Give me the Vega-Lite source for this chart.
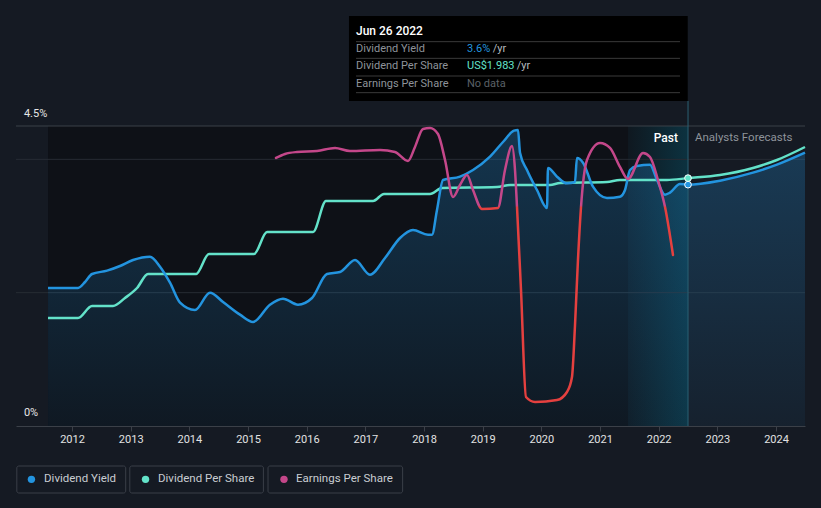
{
  "$schema": "https://vega.github.io/schema/vega-lite/v6.json",
  "width": 789,
  "height": 300,
  "autosize": {"type": "none"},
  "padding": {"left": 16, "top": 126, "right": 16, "bottom": 82},
  "background": "#151a23",
  "config": {
    "view": {"stroke": null},
    "text": {"font": "Roboto"},
    "axis": {"labelFont": "Roboto"}
  },
  "datasets": {
    "yield": [
      {"t": 2011.591, "v": 2.07}, {"t": 2012.102, "v": 2.07}, {"t": 2012.222, "v": 2.16}, {"t": 2012.341, "v": 2.28},
      {"t": 2012.597, "v": 2.33}, {"t": 2012.818, "v": 2.40}, {"t": 2013.040, "v": 2.49}, {"t": 2013.329, "v": 2.54},
      {"t": 2013.500, "v": 2.39}, {"t": 2013.670, "v": 2.15}, {"t": 2013.841, "v": 1.85}, {"t": 2014.096, "v": 1.74},
      {"t": 2014.352, "v": 2.00}, {"t": 2014.574, "v": 1.86}, {"t": 2014.863, "v": 1.67}, {"t": 2015.085, "v": 1.56},
      {"t": 2015.374, "v": 1.82}, {"t": 2015.596, "v": 1.91}, {"t": 2015.852, "v": 1.82}, {"t": 2016.091, "v": 1.92},
      {"t": 2016.346, "v": 2.28}, {"t": 2016.568, "v": 2.31}, {"t": 2016.824, "v": 2.49}, {"t": 2017.079, "v": 2.27},
      {"t": 2017.335, "v": 2.52}, {"t": 2017.591, "v": 2.82}, {"t": 2017.812, "v": 2.94}, {"t": 2018.068, "v": 2.87},
      {"t": 2018.136, "v": 2.87}, {"t": 2018.221, "v": 3.24}, {"t": 2018.324, "v": 3.69}, {"t": 2018.613, "v": 3.74},
      {"t": 2018.835, "v": 3.84}, {"t": 2019.125, "v": 4.04}, {"t": 2019.346, "v": 4.26}, {"t": 2019.534, "v": 4.43},
      {"t": 2019.602, "v": 4.44}, {"t": 2019.636, "v": 4.10}, {"t": 2019.755, "v": 3.84}, {"t": 2019.926, "v": 3.54},
      {"t": 2020.096, "v": 3.27}, {"t": 2020.113, "v": 3.87}, {"t": 2020.267, "v": 3.74}, {"t": 2020.437, "v": 3.64},
      {"t": 2020.573, "v": 3.66}, {"t": 2020.607, "v": 4.02}, {"t": 2020.710, "v": 3.95}, {"t": 2020.880, "v": 3.59},
      {"t": 2021.119, "v": 3.42}, {"t": 2021.340, "v": 3.44}, {"t": 2021.426, "v": 3.54}, {"t": 2021.511, "v": 3.84},
      {"t": 2021.630, "v": 3.90}, {"t": 2021.852, "v": 3.92}, {"t": 2021.971, "v": 3.69}, {"t": 2022.108, "v": 3.47},
      {"t": 2022.193, "v": 3.50}, {"t": 2022.363, "v": 3.63}, {"t": 2022.500, "v": 3.62}, {"t": 2023.045, "v": 3.68},
      {"t": 2023.607, "v": 3.80}, {"t": 2024.016, "v": 3.92}, {"t": 2024.494, "v": 4.10}
    ],
    "dps": [
      {"t": 2011.591, "v": 0.864}, {"t": 2012.102, "v": 0.864}, {"t": 2012.341, "v": 0.96}, {"t": 2012.699, "v": 0.96},
      {"t": 2012.903, "v": 1.024}, {"t": 2013.108, "v": 1.104}, {"t": 2013.295, "v": 1.216}, {"t": 2014.114, "v": 1.216},
      {"t": 2014.335, "v": 1.376}, {"t": 2015.102, "v": 1.376}, {"t": 2015.324, "v": 1.552}, {"t": 2016.108, "v": 1.552},
      {"t": 2016.329, "v": 1.80}, {"t": 2017.130, "v": 1.80}, {"t": 2017.318, "v": 1.856}, {"t": 2018.102, "v": 1.856},
      {"t": 2018.307, "v": 1.904}, {"t": 2019.244, "v": 1.912}, {"t": 2019.466, "v": 1.928}, {"t": 2020.147, "v": 1.928},
      {"t": 2020.318, "v": 1.944}, {"t": 2021.119, "v": 1.952}, {"t": 2021.340, "v": 1.968}, {"t": 2022.141, "v": 1.968},
      {"t": 2022.500, "v": 1.983}, {"t": 2023.045, "v": 2.008}, {"t": 2023.607, "v": 2.064}, {"t": 2024.016, "v": 2.128},
      {"t": 2024.494, "v": 2.232}
    ],
    "eps": [
      {"t": 2015.477, "v": 5.307}, {"t": 2015.630, "v": 5.394}, {"t": 2015.835, "v": 5.437}, {"t": 2016.176, "v": 5.459},
      {"t": 2016.483, "v": 5.524}, {"t": 2016.738, "v": 5.459}, {"t": 2017.250, "v": 5.481}, {"t": 2017.505, "v": 5.437},
      {"t": 2017.727, "v": 5.242}, {"t": 2017.846, "v": 5.546}, {"t": 2017.982, "v": 5.936}, {"t": 2018.102, "v": 5.957},
      {"t": 2018.238, "v": 5.827}, {"t": 2018.358, "v": 5.264}, {"t": 2018.494, "v": 4.462}, {"t": 2018.613, "v": 4.722},
      {"t": 2018.733, "v": 4.939}, {"t": 2018.835, "v": 4.614}, {"t": 2018.988, "v": 4.202}, {"t": 2019.261, "v": 4.225},
      {"t": 2019.380, "v": 5.047}, {"t": 2019.500, "v": 5.567}, {"t": 2019.551, "v": 5.047}, {"t": 2019.585, "v": 4.245},
      {"t": 2019.653, "v": 2.447}, {"t": 2019.738, "v": 0.128}, {"t": 2019.892, "v": 0.020}, {"t": 2020.267, "v": 0.063},
      {"t": 2020.437, "v": 0.237}, {"t": 2020.522, "v": 0.562}, {"t": 2020.573, "v": 1.667}, {"t": 2020.624, "v": 3.097},
      {"t": 2020.676, "v": 4.245}, {"t": 2020.778, "v": 5.264}, {"t": 2021.000, "v": 5.632}, {"t": 2021.170, "v": 5.524},
      {"t": 2021.340, "v": 5.112}, {"t": 2021.477, "v": 4.852}, {"t": 2021.733, "v": 5.416}, {"t": 2021.852, "v": 5.329},
      {"t": 2021.988, "v": 4.830}, {"t": 2022.108, "v": 4.245}, {"t": 2022.244, "v": 3.205}
    ]
  },
  "resolve": {"scale": {"y": "independent"}},
  "layer": [
    {
      "data": {"values": [{"a": 2011.591, "b": 2021.477, "lo": 0, "hi": 4.5}]},
      "mark": {"type": "rect", "fill": "#0e1117"},
      "encoding": {
        "x": {"field": "a", "type": "quantitative", "title": null, "scale": {"domain": [2011.045, 2024.494], "nice": false, "zero": false},
          "axis": {"values": [2012, 2013, 2014, 2015, 2016, 2017, 2018, 2019, 2020, 2021, 2022, 2023, 2024], "format": "d", "grid": false,
            "domainColor": "#3b4048", "tickColor": "#3b4048", "tickSize": 5, "labelColor": "#e2e2e2", "labelFontSize": 11,
            "labelPadding": 2, "labelFlush": false, "title": null}},
        "x2": {"field": "b"},
        "y": {"field": "lo", "type": "quantitative", "scale": {"domain": [0, 4.5], "nice": false, "zero": false}, "axis": null},
        "y2": {"field": "hi"}
      }
    },
    {
      "data": {"values": [{"a": 2021.477, "b": 2022.5, "lo": 0, "hi": 4.5}]},
      "mark": {"type": "rect", "fill": {"gradient": "linear", "x1": 0, "y1": 0, "x2": 1, "y2": 0,
        "stops": [{"offset": 0, "color": "#0f1820"}, {"offset": 1, "color": "#0c3240"}]}},
      "encoding": {
        "x": {"field": "a", "type": "quantitative", "title": null, "scale": {"domain": [2011.045, 2024.494], "nice": false, "zero": false}},
        "x2": {"field": "b"},
        "y": {"field": "lo", "type": "quantitative", "scale": {"domain": [0, 4.5], "nice": false, "zero": false}, "axis": null},
        "y2": {"field": "hi"}
      }
    },
    {
      "data": {"values": [{"v": 2}, {"v": 4}]},
      "mark": {"type": "rule", "color": "#272c34", "strokeWidth": 1},
      "encoding": {
        "y": {"field": "v", "type": "quantitative", "scale": {"domain": [0, 4.5], "nice": false, "zero": false}, "axis": null}
      }
    },
    {
      "data": {"values": [{"v": 4.5}]},
      "mark": {"type": "rule", "color": "#3b4048", "strokeWidth": 1},
      "encoding": {
        "y": {"field": "v", "type": "quantitative", "scale": {"domain": [0, 4.5], "nice": false, "zero": false}, "axis": null}
      }
    },
    {
      "data": {"name": "yield"},
      "mark": {"type": "area", "interpolate": "monotone", "fill": {"gradient": "linear", "x1": 0, "y1": 0, "x2": 0, "y2": 1,
        "stops": [{"offset": 0, "color": "rgba(35,148,223,0.28)"}, {"offset": 1, "color": "rgba(35,148,223,0.06)"}]}},
      "encoding": {
        "x": {"field": "t", "type": "quantitative", "title": null, "scale": {"domain": [2011.045, 2024.494], "nice": false, "zero": false}},
        "y": {"field": "v", "type": "quantitative", "scale": {"domain": [0, 4.5], "nice": false, "zero": false}, "axis": null}
      }
    },
    {
      "data": {"values": [{"t": 2022.5, "lo": 0, "hi": 4.875}]},
      "mark": {"type": "rule", "color": "#2b6172", "strokeWidth": 1},
      "encoding": {
        "x": {"field": "t", "type": "quantitative", "title": null, "scale": {"domain": [2011.045, 2024.494], "nice": false, "zero": false}},
        "y": {"field": "lo", "type": "quantitative", "scale": {"domain": [0, 4.5], "nice": false, "zero": false}, "axis": null},
        "y2": {"field": "hi"}
      }
    },
    {
      "data": {"name": "dps"},
      "mark": {"type": "line", "interpolate": "monotone", "color": "#63e2c9", "strokeWidth": 2.5},
      "encoding": {
        "x": {"field": "t", "type": "quantitative", "title": null, "scale": {"domain": [2011.045, 2024.494], "nice": false, "zero": false}},
        "y": {"field": "v", "type": "quantitative", "scale": {"domain": [0, 2.4], "nice": false, "zero": false}, "axis": null}
      }
    },
    {
      "data": {"name": "yield"},
      "mark": {"type": "line", "interpolate": "monotone", "color": "#2394df", "strokeWidth": 2.5},
      "encoding": {
        "x": {"field": "t", "type": "quantitative", "title": null, "scale": {"domain": [2011.045, 2024.494], "nice": false, "zero": false}},
        "y": {"field": "v", "type": "quantitative", "scale": {"domain": [0, 4.5], "nice": false, "zero": false}, "axis": null}
      }
    },
    {
      "data": {"name": "eps"},
      "mark": {"type": "line", "interpolate": "monotone", "strokeWidth": 2.5, "strokeCap": "round",
        "stroke": {"gradient": "linear", "x1": 0, "y1": 0, "x2": 0, "y2": 1,
          "stops": [{"offset": 0, "color": "#c4478a"}, {"offset": 0.282, "color": "#c4478a"}, {"offset": 0.29, "color": "#e5403f"}, {"offset": 1, "color": "#e5403f"}]}},
      "encoding": {
        "x": {"field": "t", "type": "quantitative", "title": null, "scale": {"domain": [2011.045, 2024.494], "nice": false, "zero": false}},
        "y": {"field": "v", "type": "quantitative", "scale": {"domain": [-0.5, 6], "nice": false, "zero": false}, "axis": null}
      }
    },
    {
      "data": {"values": [{"t": 2022.5, "v": 3.62}]},
      "mark": {"type": "point", "filled": true, "fill": "#2394df", "stroke": "#ffffff", "strokeWidth": 1, "opacity": 1, "size": 45},
      "encoding": {
        "x": {"field": "t", "type": "quantitative", "title": null, "scale": {"domain": [2011.045, 2024.494], "nice": false, "zero": false}},
        "y": {"field": "v", "type": "quantitative", "scale": {"domain": [0, 4.5], "nice": false, "zero": false}, "axis": null}
      }
    },
    {
      "data": {"values": [{"t": 2022.5, "v": 1.983}]},
      "mark": {"type": "point", "filled": true, "fill": "#63e2c9", "stroke": "#ffffff", "strokeWidth": 1, "opacity": 1, "size": 45},
      "encoding": {
        "x": {"field": "t", "type": "quantitative", "title": null, "scale": {"domain": [2011.045, 2024.494], "nice": false, "zero": false}},
        "y": {"field": "v", "type": "quantitative", "scale": {"domain": [0, 2.4], "nice": false, "zero": false}, "axis": null}
      }
    },
    {
      "data": {"values": [{"a": 2016.721, "b": 2022.495, "lo": 4.875, "hi": 6.15}]},
      "mark": {"type": "rect", "fill": "#000000"},
      "encoding": {
        "x": {"field": "a", "type": "quantitative", "title": null, "scale": {"domain": [2011.045, 2024.494], "nice": false, "zero": false}},
        "x2": {"field": "b"},
        "y": {"field": "lo", "type": "quantitative", "scale": {"domain": [0, 4.5], "nice": false, "zero": false}, "axis": null},
        "y2": {"field": "hi"}
      }
    },
    {
      "data": {"values": [{"v": 5.765}, {"v": 5.515}, {"v": 5.25}, {"v": 5.0}]},
      "mark": {"type": "rule", "color": "#3a3a3a", "strokeWidth": 1},
      "encoding": {
        "x": {"datum": 2016.841, "type": "quantitative", "title": null, "scale": {"domain": [2011.045, 2024.494], "nice": false, "zero": false}},
        "x2": {"datum": 2022.363},
        "y": {"field": "v", "type": "quantitative", "scale": {"domain": [0, 4.5], "nice": false, "zero": false}, "axis": null}
      }
    },
    {
      "data": {"values": [{"t": 2016.841, "v": 5.925, "label": "Jun 26 2022"}]},
      "mark": {"type": "text", "align": "left", "baseline": "middle", "color": "#ffffff", "fontSize": 12, "fontWeight": 500},
      "encoding": {
        "x": {"field": "t", "type": "quantitative", "title": null, "scale": {"domain": [2011.045, 2024.494], "nice": false, "zero": false}},
        "y": {"field": "v", "type": "quantitative", "scale": {"domain": [0, 4.5], "nice": false, "zero": false}, "axis": null},
        "text": {"field": "label"}
      }
    },
    {
      "data": {"values": [
        {"t": 2016.841, "v": 5.655, "label": "Dividend Yield"},
        {"t": 2016.841, "v": 5.40, "label": "Dividend Per Share"},
        {"t": 2016.841, "v": 5.13, "label": "Earnings Per Share"}
      ]},
      "mark": {"type": "text", "align": "left", "baseline": "middle", "color": "#8e939a", "fontSize": 11},
      "encoding": {
        "x": {"field": "t", "type": "quantitative", "title": null, "scale": {"domain": [2011.045, 2024.494], "nice": false, "zero": false}},
        "y": {"field": "v", "type": "quantitative", "scale": {"domain": [0, 4.5], "nice": false, "zero": false}, "axis": null},
        "text": {"field": "label"}
      }
    },
    {
      "data": {"values": [{"t": 2018.733, "v": 5.655, "label": "3.6%"}]},
      "mark": {"type": "text", "align": "left", "baseline": "middle", "color": "#2394df", "fontSize": 11},
      "encoding": {
        "x": {"field": "t", "type": "quantitative", "title": null, "scale": {"domain": [2011.045, 2024.494], "nice": false, "zero": false}},
        "y": {"field": "v", "type": "quantitative", "scale": {"domain": [0, 4.5], "nice": false, "zero": false}, "axis": null},
        "text": {"field": "label"}
      }
    },
    {
      "data": {"values": [{"t": 2018.733, "v": 5.40, "label": "US$1.983"}]},
      "mark": {"type": "text", "align": "left", "baseline": "middle", "color": "#63e2c9", "fontSize": 11},
      "encoding": {
        "x": {"field": "t", "type": "quantitative", "title": null, "scale": {"domain": [2011.045, 2024.494], "nice": false, "zero": false}},
        "y": {"field": "v", "type": "quantitative", "scale": {"domain": [0, 4.5], "nice": false, "zero": false}, "axis": null},
        "text": {"field": "label"}
      }
    },
    {
      "data": {"values": [{"t": 2019.171, "v": 5.655, "label": "/yr"}, {"t": 2019.579, "v": 5.40, "label": "/yr"}]},
      "mark": {"type": "text", "align": "left", "baseline": "middle", "color": "#b4b9be", "fontSize": 11},
      "encoding": {
        "x": {"field": "t", "type": "quantitative", "title": null, "scale": {"domain": [2011.045, 2024.494], "nice": false, "zero": false}},
        "y": {"field": "v", "type": "quantitative", "scale": {"domain": [0, 4.5], "nice": false, "zero": false}, "axis": null},
        "text": {"field": "label"}
      }
    },
    {
      "data": {"values": [{"t": 2018.733, "v": 5.13, "label": "No data"}]},
      "mark": {"type": "text", "align": "left", "baseline": "middle", "color": "#5b6067", "fontSize": 11},
      "encoding": {
        "x": {"field": "t", "type": "quantitative", "title": null, "scale": {"domain": [2011.045, 2024.494], "nice": false, "zero": false}},
        "y": {"field": "v", "type": "quantitative", "scale": {"domain": [0, 4.5], "nice": false, "zero": false}, "axis": null},
        "text": {"field": "label"}
      }
    },
    {
      "data": {"values": [{"t": 2011.18, "v": 4.68, "label": "4.5%"}, {"t": 2011.18, "v": 0.195, "label": "0%"}]},
      "mark": {"type": "text", "align": "left", "baseline": "middle", "color": "#e6e6e6", "fontSize": 11},
      "encoding": {
        "x": {"field": "t", "type": "quantitative", "title": null, "scale": {"domain": [2011.045, 2024.494], "nice": false, "zero": false}},
        "y": {"field": "v", "type": "quantitative", "scale": {"domain": [0, 4.5], "nice": false, "zero": false}, "axis": null},
        "text": {"field": "label"}
      }
    },
    {
      "data": {"values": [{"t": 2022.329, "v": 4.32, "label": "Past"}]},
      "mark": {"type": "text", "align": "right", "baseline": "middle", "color": "#ffffff", "fontSize": 12, "fontWeight": 500},
      "encoding": {
        "x": {"field": "t", "type": "quantitative", "title": null, "scale": {"domain": [2011.045, 2024.494], "nice": false, "zero": false}},
        "y": {"field": "v", "type": "quantitative", "scale": {"domain": [0, 4.5], "nice": false, "zero": false}, "axis": null},
        "text": {"field": "label"}
      }
    },
    {
      "data": {"values": [{"t": 2022.619, "v": 4.32, "label": "Analysts Forecasts"}]},
      "mark": {"type": "text", "align": "left", "baseline": "middle", "color": "#8e939a", "fontSize": 11.5},
      "encoding": {
        "x": {"field": "t", "type": "quantitative", "title": null, "scale": {"domain": [2011.045, 2024.494], "nice": false, "zero": false}},
        "y": {"field": "v", "type": "quantitative", "scale": {"domain": [0, 4.5], "nice": false, "zero": false}, "axis": null},
        "text": {"field": "label"}
      }
    },
    {
      "data": {"values": [{"a": 2011.059, "b": 2012.915}, {"a": 2012.985, "b": 2015.262}, {"a": 2015.341, "b": 2017.635}]},
      "mark": {"type": "rect", "fill": "#151a23", "stroke": "#3a3f48", "strokeWidth": 1, "cornerRadius": 2},
      "encoding": {
        "x": {"field": "a", "type": "quantitative", "title": null, "scale": {"domain": [2011.045, 2024.494], "nice": false, "zero": false}},
        "x2": {"field": "b"},
        "y": {"datum": -0.6, "type": "quantitative", "scale": {"domain": [0, 4.5], "nice": false, "zero": false}, "axis": null},
        "y2": {"datum": -1.005}
      }
    },
    {
      "data": {"values": [{"t": 2011.308, "s": "Dividend Yield"}, {"t": 2013.253, "s": "Dividend Per Share"}, {"t": 2015.613, "s": "Earnings Per Share"}]},
      "mark": {"type": "point", "filled": true, "opacity": 1, "size": 55, "shape": "circle"},
      "encoding": {
        "x": {"field": "t", "type": "quantitative", "title": null, "scale": {"domain": [2011.045, 2024.494], "nice": false, "zero": false}},
        "y": {"datum": -0.8, "type": "quantitative", "scale": {"domain": [0, 4.5], "nice": false, "zero": false}, "axis": null},
        "color": {"field": "s", "type": "nominal", "legend": null,
          "scale": {"domain": ["Dividend Yield", "Dividend Per Share", "Earnings Per Share"], "range": ["#2394df", "#63e2c9", "#c4478a"]}}
      }
    },
    {
      "data": {"values": [{"t": 2011.523, "label": "Dividend Yield"}, {"t": 2013.466, "label": "Dividend Per Share"}, {"t": 2015.818, "label": "Earnings Per Share"}]},
      "mark": {"type": "text", "align": "left", "baseline": "middle", "color": "#c9cdd2", "fontSize": 11.5},
      "encoding": {
        "x": {"field": "t", "type": "quantitative", "title": null, "scale": {"domain": [2011.045, 2024.494], "nice": false, "zero": false}},
        "y": {"datum": -0.8, "type": "quantitative", "scale": {"domain": [0, 4.5], "nice": false, "zero": false}, "axis": null},
        "text": {"field": "label"}
      }
    }
  ]
}
